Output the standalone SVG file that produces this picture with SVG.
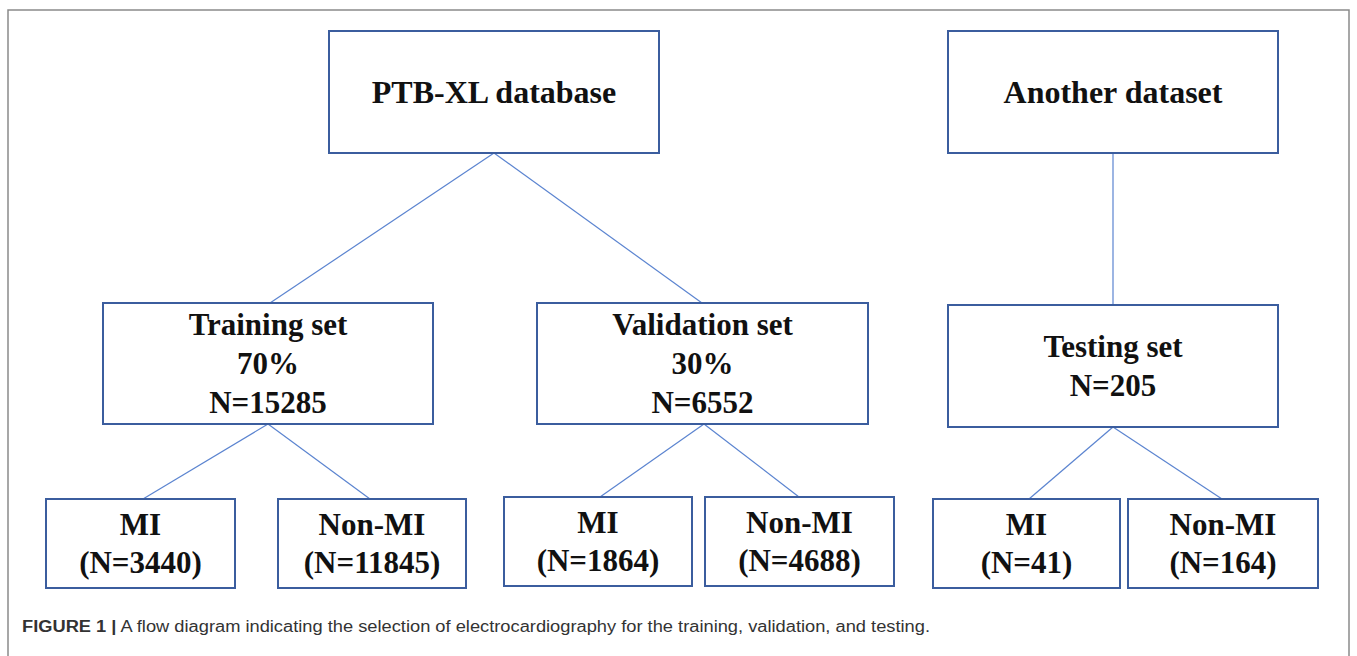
<svg xmlns="http://www.w3.org/2000/svg" width="1357" height="656" viewBox="0 0 1357 656">
<style>
.box{fill:#fff;stroke:#3b5d9e;stroke-width:2}
.lbl{font-family:"Liberation Serif","Times New Roman",serif;font-weight:bold;fill:#111;text-anchor:middle}
.big{font-size:32px}
.mid{font-size:31px}
.con{stroke:#5b84d0;stroke-width:1.2;fill:none}
.cap{font-family:"Liberation Sans",Arial,sans-serif;font-size:16px;fill:#333}
</style>
<rect x="0" y="0" width="1357" height="656" fill="#fff"/>
<path d="M8,660 V10 H1349 V660" fill="none" stroke="#8a8a8a" stroke-width="1.5"/>
<g id="connectors">
<line class="con" x1="494" y1="153" x2="270" y2="303"/>
<line class="con" x1="494" y1="153" x2="702" y2="303"/>
<line class="con" x1="1113" y1="153" x2="1113" y2="305"/>
<line class="con" x1="268" y1="424" x2="143" y2="499"/>
<line class="con" x1="268" y1="424" x2="370" y2="499"/>
<line class="con" x1="704" y1="424" x2="600" y2="497"/>
<line class="con" x1="704" y1="424" x2="799" y2="497"/>
<line class="con" x1="1113" y1="427" x2="1029" y2="499"/>
<line class="con" x1="1113" y1="427" x2="1222" y2="499"/>
</g>
<g id="ptbxl">
<rect class="box" x="329" y="31" width="330" height="122"/>
<text class="lbl big" x="494" y="103">PTB-XL database</text>
</g>
<g id="another">
<rect class="box" x="948" y="31" width="330" height="122"/>
<text class="lbl big" x="1113" y="103">Another dataset</text>
</g>
<g id="training">
<rect class="box" x="103" y="303" width="330" height="121"/>
<text class="lbl mid" x="268" y="335">Training set</text>
<text class="lbl mid" x="268" y="374">70%</text>
<text class="lbl mid" x="268" y="413">N=15285</text>
</g>
<g id="validation">
<rect class="box" x="537" y="303" width="331" height="121"/>
<text class="lbl mid" x="702.5" y="335">Validation set</text>
<text class="lbl mid" x="702.5" y="374">30%</text>
<text class="lbl mid" x="702.5" y="413">N=6552</text>
</g>
<g id="testing">
<rect class="box" x="948" y="305" width="330" height="122"/>
<text class="lbl mid" x="1113" y="357">Testing set</text>
<text class="lbl mid" x="1113" y="396">N=205</text>
</g>
<g id="train-mi">
<rect class="box" x="46" y="499" width="189" height="89"/>
<text class="lbl mid" x="140.5" y="535">MI</text>
<text class="lbl mid" x="140.5" y="573">(N=3440)</text>
</g>
<g id="train-nonmi">
<rect class="box" x="278" y="499" width="188" height="89"/>
<text class="lbl mid" x="372" y="535">Non-MI</text>
<text class="lbl mid" x="372" y="573">(N=11845)</text>
</g>
<g id="val-mi">
<rect class="box" x="504" y="497" width="188" height="89"/>
<text class="lbl mid" x="598" y="533">MI</text>
<text class="lbl mid" x="598" y="571">(N=1864)</text>
</g>
<g id="val-nonmi">
<rect class="box" x="705" y="497" width="189" height="89"/>
<text class="lbl mid" x="799.5" y="533">Non-MI</text>
<text class="lbl mid" x="799.5" y="571">(N=4688)</text>
</g>
<g id="test-mi">
<rect class="box" x="933" y="499" width="187" height="89"/>
<text class="lbl mid" x="1026.5" y="535">MI</text>
<text class="lbl mid" x="1026.5" y="573">(N=41)</text>
</g>
<g id="test-nonmi">
<rect class="box" x="1128" y="499" width="190" height="89"/>
<text class="lbl mid" x="1223" y="535">Non-MI</text>
<text class="lbl mid" x="1223" y="573">(N=164)</text>
</g>
<text class="cap" x="22" y="632" textLength="908" lengthAdjust="spacingAndGlyphs"><tspan font-weight="bold">FIGURE 1 |</tspan> A flow diagram indicating the selection of electrocardiography for the training, validation, and testing.</text>
</svg>
